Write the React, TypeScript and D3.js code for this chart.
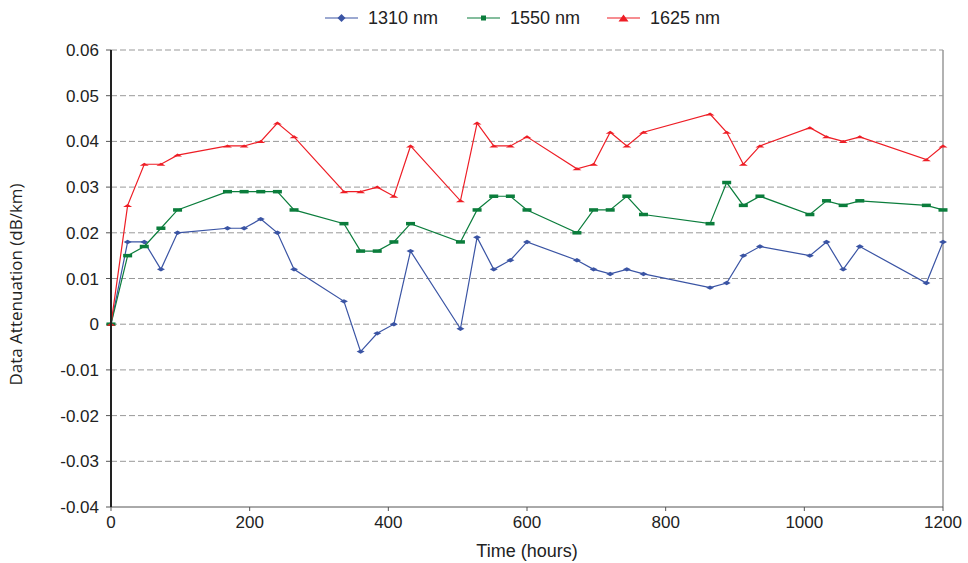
import React from 'react';
import * as d3 from 'd3';

// time points (hours)
const hours = [0, 24, 48, 72, 96, 168, 192, 216, 240, 264, 336, 360, 384, 408, 432, 504, 528, 552, 576, 600, 672, 696, 720, 744, 768, 864, 888, 912, 936, 1008, 1032, 1056, 1080, 1176, 1200];

const att1310 = [0, 0.018, 0.018, 0.012, 0.020, 0.021, 0.021, 0.023, 0.020, 0.012, 0.005, -0.006, -0.002, 0, 0.016, -0.001, 0.019, 0.012, 0.014, 0.018, 0.014, 0.012, 0.011, 0.012, 0.011, 0.008, 0.009, 0.015, 0.017, 0.015, 0.018, 0.012, 0.017, 0.009, 0.018];
const att1550 = [0, 0.015, 0.017, 0.021, 0.025, 0.029, 0.029, 0.029, 0.029, 0.025, 0.022, 0.016, 0.016, 0.018, 0.022, 0.018, 0.025, 0.028, 0.028, 0.025, 0.020, 0.025, 0.025, 0.028, 0.024, 0.022, 0.031, 0.026, 0.028, 0.024, 0.027, 0.026, 0.027, 0.026, 0.025];
const att1625 = [0, 0.026, 0.035, 0.035, 0.037, 0.039, 0.039, 0.040, 0.044, 0.041, 0.029, 0.029, 0.030, 0.028, 0.039, 0.027, 0.044, 0.039, 0.039, 0.041, 0.034, 0.035, 0.042, 0.039, 0.042, 0.046, 0.042, 0.035, 0.039, 0.043, 0.041, 0.040, 0.041, 0.036, 0.039];

const seriesNames = ['1310 nm', '1550 nm', '1625 nm'];
const seriesColors = ['#3a54a4', '#0b7d3c', '#ee1d25'];

const xTicks = [0, 200, 400, 600, 800, 1000, 1200];
const yTicks = [-0.04, -0.03, -0.02, -0.01, 0, 0.01, 0.02, 0.03, 0.04, 0.05, 0.06];

const W = 968;
const H = 563;
const plot = { left: 111, right: 943, top: 50, bottom: 507 };

const Marker = ({ kind, x, y, color, legend }: { kind: number; x: number; y: number; color: string; legend?: boolean }) => {
  if (kind === 0) {
    const w = 4, h = legend ? 4 : 2.2;
    return <path d={`M${x - w},${y}L${x},${y - h}L${x + w},${y}L${x},${y + h}Z`} fill={color} />;
  }
  if (kind === 1) {
    const w = legend ? 5 : 9, h = legend ? 5 : 3.5;
    return <rect x={x - w / 2} y={y - h / 2} width={w} height={h} fill={color} />;
  }
  const w = legend ? 5 : 4.5, h = legend ? 7 : 3;
  return <path d={`M${x - w},${y + h / 2}L${x},${y - h / 2}L${x + w},${y + h / 2}Z`} fill={color} />;
};

export default function App() {
  const x = d3.scaleLinear().domain([0, 1200]).range([plot.left, plot.right]);
  const y = d3.scaleLinear().domain([-0.04, 0.06]).range([plot.bottom, plot.top]);
  const all = [att1310, att1550, att1625];
  const line = d3.line<[number, number]>().x(d => x(d[0])).y(d => y(d[1]));

  const legendX = [325, 467, 607];

  return (
    <svg width={W} height={H} style={{ position: 'absolute', left: 0, top: 0, background: '#fff' }} fontFamily="Liberation Sans, Arial, sans-serif">
      {/* gridlines */}
      {yTicks.filter(t => t > -0.04).map(t => (
        <line key={t} x1={plot.left} x2={plot.right} y1={y(t)} y2={y(t)} stroke="#999" strokeWidth={1} strokeDasharray="6,3" />
      ))}
      {/* right border */}
      <line x1={plot.right} x2={plot.right} y1={plot.top} y2={plot.bottom} stroke="#999" strokeWidth={1.5} />
      {/* bottom axis */}
      <line x1={plot.left} x2={plot.right} y1={plot.bottom} y2={plot.bottom} stroke="#555" strokeWidth={1} />
      {xTicks.map(t => (
        <g key={t}>
          <line x1={x(t)} x2={x(t)} y1={plot.bottom} y2={plot.bottom + 4} stroke="#555" />
          <text x={x(t)} y={plot.bottom + 21} textAnchor="middle" fontSize={17} fill="#222">{t}</text>
        </g>
      ))}
      {/* y ticks */}
      {yTicks.map(t => (
        <g key={t}>
          <line x1={plot.left - 5} x2={plot.left} y1={y(t)} y2={y(t)} stroke="#555" />
          <text x={plot.left - 12} y={y(t) + 6} textAnchor="end" fontSize={17} fill="#222">{t === 0 ? '0' : d3.format('.2f')(t).replace('−', '-')}</text>
        </g>
      ))}
      {/* series */}
      {all.map((vals, si) => {
        const pts: [number, number][] = hours.map((h, i) => [h, vals[i]]);
        return (
          <g key={si}>
            <path d={line(pts) || ''} fill="none" stroke={seriesColors[si]} strokeWidth={1.2} />
            {pts.map((p, i) => (
              <Marker key={i} kind={si} x={x(p[0])} y={y(p[1])} color={seriesColors[si]} />
            ))}
          </g>
        );
      })}
      {/* left axis */}
      <line x1={plot.left} x2={plot.left} y1={plot.top} y2={plot.bottom} stroke="#222" strokeWidth={2} />
      {/* axis titles */}
      <text x={(plot.left + plot.right) / 2} y={557} textAnchor="middle" fontSize={18} fill="#222">Time (hours)</text>
      <text transform={`translate(22,${(plot.top + plot.bottom) / 2 + 6}) rotate(-90)`} textAnchor="middle" fontSize={17} fill="#222" fontFamily="Open Sans, sans-serif">Data Attenuation (dB/km)</text>
      {/* legend */}
      {seriesNames.map((n, i) => (
        <g key={n}>
          <line x1={legendX[i]} x2={legendX[i] + 33} y1={18} y2={18} stroke={seriesColors[i]} strokeWidth={1.2} />
          <Marker kind={i} x={legendX[i] + 16.5} y={18} color={seriesColors[i]} legend />
          <text x={legendX[i] + 43} y={24} fontSize={18} fill="#222">{n}</text>
        </g>
      ))}
    </svg>
  );
}
